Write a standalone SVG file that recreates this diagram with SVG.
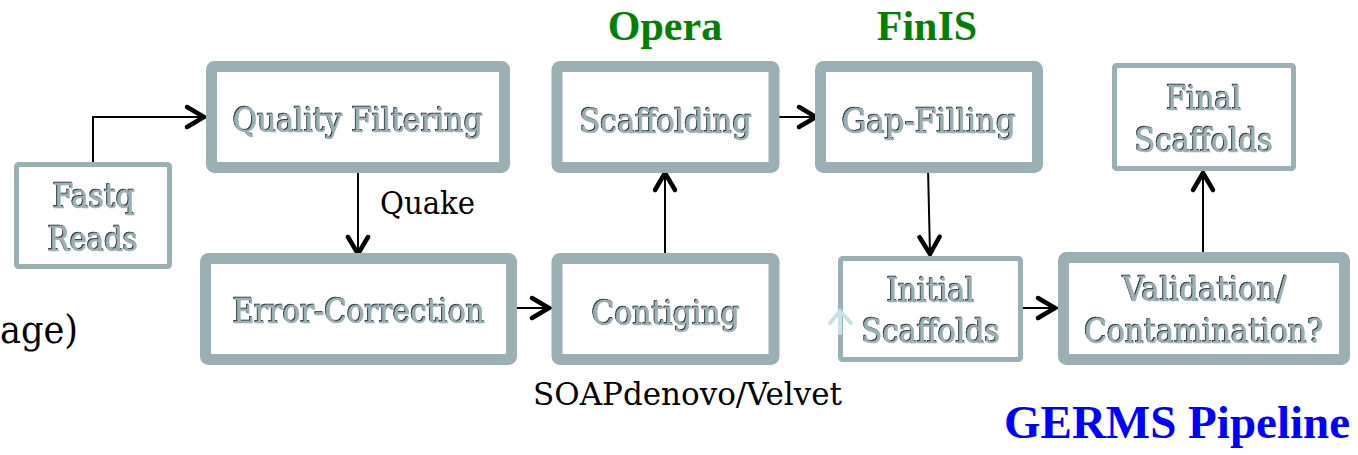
<svg xmlns="http://www.w3.org/2000/svg" width="1358" height="455" viewBox="0 0 1358 455">
  <style>
    .box { fill: #ffffff; stroke: #9bb0b4; }
    .thick { stroke-width: 11; }
    .thin { stroke-width: 5; }
    .lbl { font-family: "DejaVu Serif", "Liberation Serif", serif; font-stretch: condensed; font-size: 33px; fill: #9bb0b4; stroke: #9bb0b4; stroke-width: 0.5px; text-anchor: middle; filter: url(#emb); }
    .plain { font-family: "DejaVu Serif", "Liberation Serif", serif; font-stretch: condensed; fill: #000000; }
    .title { font-family: "Liberation Serif", "DejaVu Serif", serif; font-weight: bold; }
    .conn { fill: none; stroke: #000000; stroke-width: 2; marker-end: url(#arr); }
  </style>
  <defs>
    <filter id="emb" x="-10%" y="-20%" width="120%" height="140%">
      <feOffset in="SourceAlpha" dx="-1.2" dy="-0.9" result="off"/>
      <feFlood flood-color="#223234"/>
      <feComposite in2="off" operator="in" result="sh"/>
      <feMerge>
        <feMergeNode in="sh"/>
        <feMergeNode in="SourceGraphic"/>
      </feMerge>
    </filter>
    <marker id="arr" markerUnits="userSpaceOnUse" viewBox="-24 -14 28 28" refX="0" refY="0" markerWidth="28" markerHeight="28" orient="auto" overflow="visible">
      <path d="M-17,-10 L0,0 L-17,10" fill="none" stroke="#000000" stroke-width="4.5" stroke-linecap="round" stroke-linejoin="miter"/>
    </marker>
  </defs>
  <rect width="1358" height="455" fill="#ffffff"/>

  <g id="connectors">
    <path class="conn" d="M93,164 V117 H204"/>
    <path class="conn" d="M358,168 V254"/>
    <path class="conn" d="M512,308 H549"/>
    <path class="conn" d="M665,257 V173"/>
    <path class="conn" d="M775,117 H816"/>
    <path class="conn" d="M928,168 L930,254"/>
    <path class="conn" d="M1023,308 H1055"/>
    <path class="conn" d="M1203,258 V173"/>
  </g>

  <g id="fastq">
    <rect class="box thin" x="16.5" y="164.5" width="153" height="102" rx="2"/>
    <text class="lbl" x="94" y="208" textLength="82" lengthAdjust="spacingAndGlyphs">Fastq</text>
    <text class="lbl" x="93" y="251" textLength="90" lengthAdjust="spacingAndGlyphs">Reads</text>
  </g>

  <g id="quality">
    <rect class="box thick" x="211.5" y="66.5" width="293" height="101" rx="3"/>
    <text class="lbl" x="358" y="132" textLength="250" lengthAdjust="spacingAndGlyphs">Quality Filtering</text>
  </g>

  <g id="error">
    <rect class="box thick" x="205.5" y="258.5" width="306" height="101" rx="3"/>
    <text class="lbl" x="359" y="323" textLength="252" lengthAdjust="spacingAndGlyphs">Error-Correction</text>
  </g>

  <g id="contiging">
    <rect class="box thick" x="557" y="258.5" width="217" height="101" rx="3"/>
    <text class="lbl" x="666" y="325" textLength="148" lengthAdjust="spacingAndGlyphs">Contiging</text>
  </g>

  <g id="scaffolding">
    <rect class="box thick" x="557" y="66.5" width="217" height="101" rx="3"/>
    <text class="lbl" x="666" y="133" textLength="172" lengthAdjust="spacingAndGlyphs">Scaffolding</text>
  </g>

  <g id="gapfilling">
    <rect class="box thick" x="820.5" y="66.5" width="217" height="101" rx="3"/>
    <text class="lbl" x="929" y="133" textLength="174" lengthAdjust="spacingAndGlyphs">Gap-Filling</text>
  </g>

  <g id="initial">
    <rect class="box thin" x="840.5" y="258.5" width="180" height="101" rx="2"/>
    <path d="M840,333 V311 M830,323 L840,311 L851,323" fill="none" stroke="#c6e2e5" stroke-width="4" stroke-linecap="round"/>
    <text class="lbl" x="931" y="302" textLength="88" lengthAdjust="spacingAndGlyphs">Initial</text>
    <text class="lbl" x="931" y="343" textLength="138" lengthAdjust="spacingAndGlyphs">Scaffolds</text>
  </g>

  <g id="validation">
    <rect class="box thick" x="1063.5" y="257.5" width="281" height="102" rx="3"/>
    <text class="lbl" x="1205" y="301" textLength="164" lengthAdjust="spacingAndGlyphs">Validation/</text>
    <text class="lbl" x="1204" y="343" textLength="239" lengthAdjust="spacingAndGlyphs">Contamination?</text>
  </g>

  <g id="final">
    <rect class="box thin" x="1114.5" y="65.5" width="179" height="103" rx="2"/>
    <text class="lbl" x="1204" y="110" textLength="75" lengthAdjust="spacingAndGlyphs">Final</text>
    <text class="lbl" x="1204" y="152" textLength="138" lengthAdjust="spacingAndGlyphs">Scaffolds</text>
  </g>

  <g id="labels">
    <text class="title" x="665" y="40" font-size="42" fill="#008000" text-anchor="middle">Opera</text>
    <text class="title" x="927" y="40" font-size="42" fill="#008000" text-anchor="middle">FinIS</text>
    <text class="plain" x="380" y="214" font-size="31" textLength="95" lengthAdjust="spacingAndGlyphs">Quake</text>
    <text class="plain" x="533" y="405" font-size="32" textLength="309" lengthAdjust="spacingAndGlyphs">SOAPdenovo/Velvet</text>
    <text class="plain" x="0" y="343" font-size="40" textLength="78" lengthAdjust="spacingAndGlyphs">age)</text>
    <text class="title" x="1350" y="438" font-size="47" fill="#0000ff" text-anchor="end">GERMS Pipeline</text>
  </g>
</svg>
